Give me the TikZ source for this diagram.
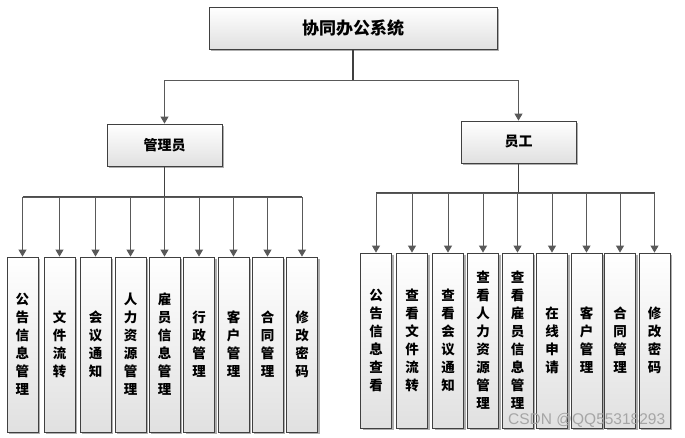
\documentclass[tikz,border=0pt]{standalone}
\usepackage{fontspec}
\newfontfamily\cjk{Noto Sans CJK SC}
\setsansfont{Liberation Sans}
\usetikzlibrary{shadows,arrows.meta}
\begin{document}
\begin{tikzpicture}[x=1pt,y=-1pt,
  box/.style={draw=black!75, line width=0.8pt, top color=white, bottom color=black!12,
    drop shadow={shadow xshift=2pt, shadow yshift=-2pt, fill=black!45, opacity=0.7}, inner sep=0pt},
  head/.style={box, minimum width=115pt, minimum height=42pt, font=\cjk\bfseries\fontsize{14}{16}\selectfont},
  child/.style={box, minimum width=31pt, minimum height=175pt, align=center, font=\cjk\bfseries\fontsize{13.5}{18}\selectfont},
  trunk/.style={draw=black!75, line width=1.6pt},
  link/.style={draw=black!65, line width=0.9pt, -{Triangle[width=8pt,length=7pt]}},
  bus/.style={draw=black!70, line width=1.2pt}]
\useasboundingbox (0,0) rectangle (685,438);
\fill[white] (0,0) rectangle (685,438);

\node[box, minimum width=288pt, minimum height=42pt, font=\cjk\bfseries\fontsize{17}{20}\selectfont] (top) at (353,28) {协同办公系统};
\node[head] (adm) at (164.5,145) {管理员};
\node[head] (emp) at (518.5,142) {员工};

% admin children
\node[child] (a1) at (22.5,344.5) {公\\告\\信\\息\\管\\理};
\node[child] (a2) at (59.5,344.5) {文\\件\\流\\转};
\node[child] (a3) at (95.5,344.5) {会\\议\\通\\知};
\node[child] (a4) at (130.5,344.5) {人\\力\\资\\源\\管\\理};
\node[child] (a5) at (164.5,344.5) {雇\\员\\信\\息\\管\\理};
\node[child] (a6) at (199,344.5) {行\\政\\管\\理};
\node[child] (a7) at (233.5,344.5) {客\\户\\管\\理};
\node[child] (a8) at (267.5,344.5) {合\\同\\管\\理};
\node[child] (a9) at (302,344.5) {修\\改\\密\\码};

% employee children
\node[child] (e1) at (376,340.5) {公\\告\\信\\息\\查\\看};
\node[child] (e2) at (412,340.5) {查\\看\\文\\件\\流\\转};
\node[child] (e3) at (448,340.5) {查\\看\\会\\议\\通\\知};
\node[child] (e4) at (483,340.5) {查\\看\\人\\力\\资\\源\\管\\理};
\node[child] (e5) at (517.5,340.5) {查\\看\\雇\\员\\信\\息\\管\\理};
\node[child] (e6) at (552,340.5) {在\\线\\申\\请};
\node[child] (e7) at (586.5,340.5) {客\\户\\管\\理};
\node[child] (e8) at (620,340.5) {合\\同\\管\\理};
\node[child] (e9) at (654.5,340.5) {修\\改\\密\\码};

% connectors
\coordinate (j0) at (353,80);
\coordinate (lb) at (164.5,197);
\coordinate (rb) at (518.5,193);
\draw[trunk] (top.south) -- (j0);
\draw[link] (j0) -| (adm.north);
\draw[link] (j0) -| (emp.north);
\draw[trunk] (adm.south) -- (lb);
\draw[trunk] (emp.south) -- (rb);
\draw[bus] (lb -| a1.north) -- (lb -| a9.north);
\draw[bus] (rb -| e1.north) -- (rb -| e9.north);
\foreach \i in {1,...,9}{
  \draw[link] (lb) -| (a\i.north);
  \draw[link] (rb) -| (e\i.north);
}

\node[font=\sffamily\fontsize{15.5}{16}\selectfont, text=black!35, anchor=west, inner sep=0pt] (wm) at (508,420) {CSDN @QQ55318293};
\end{tikzpicture}
\end{document}
